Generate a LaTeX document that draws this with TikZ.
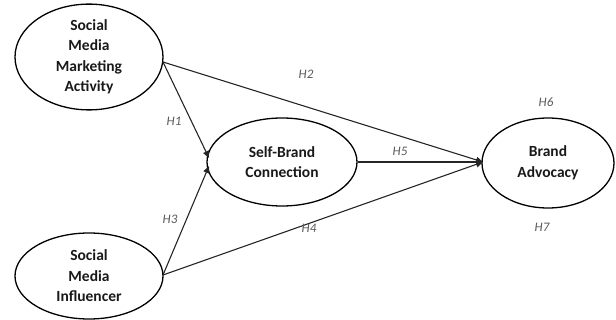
\documentclass[tikz,border=0pt]{standalone}
\usepackage{fontspec}
\setmainfont{Carlito}
\usetikzlibrary{shapes.geometric,arrows.meta}
\begin{document}
\begin{tikzpicture}[x=1pt,y=-1pt,
  construct/.style={draw=black,line width=1.3pt,ellipse,inner sep=0pt,align=center,
    font=\fontsize{15.5}{20.5}\selectfont\bfseries,text=black!90},
  link/.style={draw=black!85,line width=1.1pt,-{Triangle[length=7pt,width=6pt]}},
  hyp/.style={font=\fontsize{13}{14}\selectfont\itshape,text=black!65}]
\useasboundingbox (0,0) rectangle (616,320);
\node[construct,minimum width=148pt,minimum height=86pt] (smma) at (89,57) {Social\\Media\\Marketing\\Activity};
\node[construct,minimum width=148pt,minimum height=86pt] (smi) at (89,276) {Social\\Media\\Influencer};
\node[construct,minimum width=150pt,minimum height=88pt] (sbc) at (282,162) {Self-Brand\\Connection};
\node[construct,minimum width=132pt,minimum height=90pt] (ba) at (548,163) {Brand\\Advocacy};
\coordinate (smmaout) at (163,62);
\coordinate (smiout) at (163,275);
\coordinate (sbcin1) at (209,158);
\coordinate (sbcin2) at (209,166);
\coordinate (bain) at (483,162);
\draw[link] (smmaout) -- (sbcin1);
\draw[link] (smiout) -- (sbcin2);
\draw[link] (smmaout) -- (bain);
\draw[link] (smiout) -- (bain);
\draw[link] (sbc.east) -- (bain);
\node[hyp] (h1) at (174,121) {H1};
\node[hyp] (h2) at (306,74) {H2};
\node[hyp] (h3) at (170,219) {H3};
\node[hyp] (h4) at (309,228) {H4};
\node[hyp] (h5) at (400,151) {H5};
\node[hyp] (h6) at (546,102) {H6};
\node[hyp] (h7) at (542,227) {H7};
\end{tikzpicture}
\end{document}
